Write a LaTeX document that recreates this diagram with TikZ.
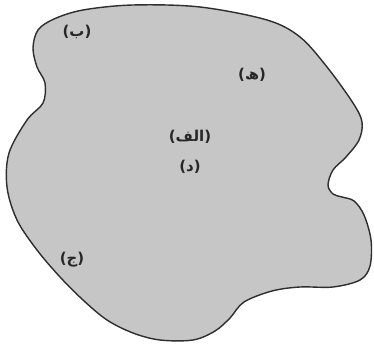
\documentclass[tikz,border=0pt]{standalone}
\usepackage{fontspec}
\newfontfamily\arabicfont[Script=Arabic]{DejaVu Sans}
\TeXXeTstate=1
\definecolor{BlobGrey}{HTML}{C6C6C6}
\definecolor{BlobEdge}{HTML}{2E2E2E}
\usepackage{tikz}
\usetikzlibrary{positioning}

\begin{document}
\begin{tikzpicture}[
    x=0.02cm, y=-0.02cm,
    blob/.style={
      fill=BlobGrey,
      draw=BlobEdge,
      line width=0.8pt,
      line join=round
    },
    lbl/.style={
      font=\arabicfont\bfseries\fontsize{8.5}{10}\selectfont,
      inner sep=1pt,
      text=black!85
    }
  ]
    \useasboundingbox (0,0) rectangle (374,347);
    % outline of the region
    \draw[blob] plot[smooth cycle, tension=0.55] coordinates {
      (83,10) (133,5) (200,7) (267,20) (300,37) (327,67) (353,103)
      (362,122) (359,140) (346,157) (333,170) (328,185) (333,194)
      (342,197) (354,201) (364,215) (371,240) (370,266) (360,280)
      (333,287) (300,287) (272,291) (244,302) (230,318) (215,331)
      (193,340) (160,340) (133,333) (107,320) (83,300) (60,277)
      (37,250) (17,220) (7,187) (9,153) (27,120) (43,103) (45,83)
      (37,67) (33,48) (38,30) (54,19)
    };
    \node[lbl] (b) at (77,32) {\beginR(ب)\endR};
    \node[lbl] (h) at (252,75) {\beginR(ھ)\endR};
    \node[lbl] (alef) at (190,137) {\beginR(الف)\endR};
    \node[lbl] (d) at (190,167) {\beginR(د)\endR};
    \node[lbl] (j) at (72,260) {\beginR(ج)\endR};
\end{tikzpicture}
\end{document}
